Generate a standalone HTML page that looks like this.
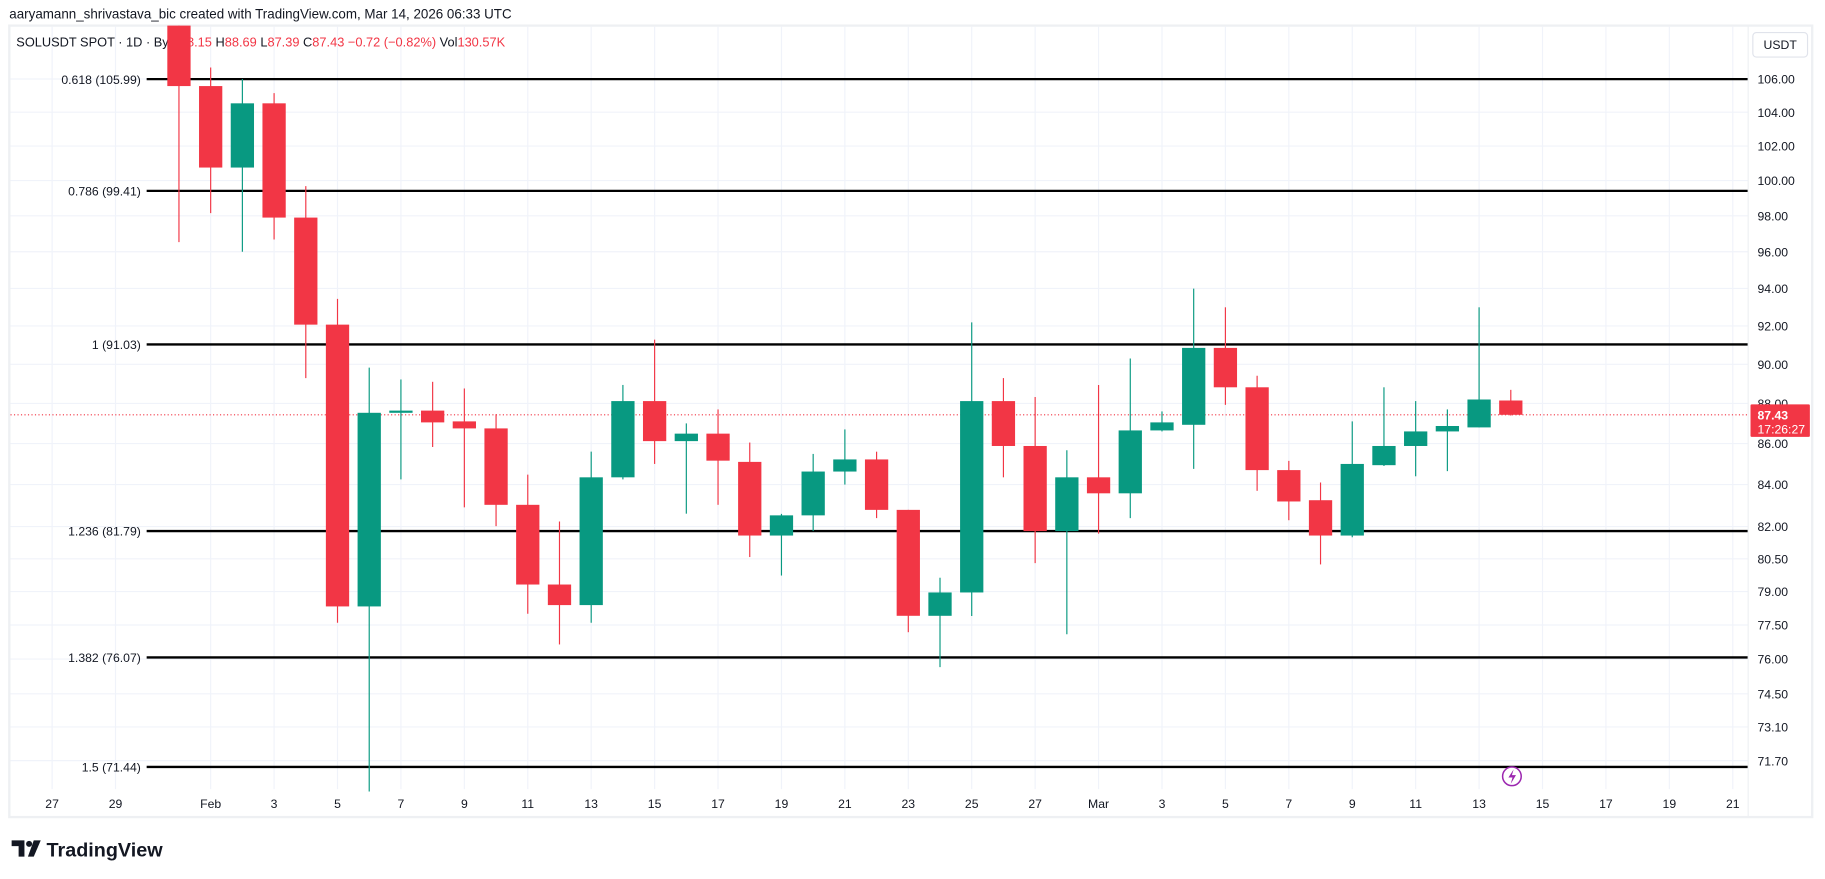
<!DOCTYPE html>
<html><head><meta charset="utf-8"><style>
html,body{margin:0;padding:0;background:#fff;}
svg{display:block;font-family:"Liberation Sans",sans-serif;}
</style></head><body>
<svg id="chart" width="1825" height="879" viewBox="0 0 1568 755.2" preserveAspectRatio="none" xmlns="http://www.w3.org/2000/svg">
<rect width="1568" height="756" fill="#fff"/>
<text x="8" y="16" font-size="11.5" fill="#131722">aaryamann_shrivastava_bic created with TradingView.com, Mar 14, 2026 06:33 UTC</text>
<rect x="8" y="22" width="1549" height="680" fill="none" stroke="#eef0f3" stroke-width="2"/>
<g id="grid"></g>
<g id="fibs"></g>
<text x="14" y="40" font-size="11" fill="#131722">SOLUSDT SPOT · 1D · Bybit</text>
<text x="146" y="40" font-size="11"><tspan fill="#131722">O</tspan><tspan fill="#f23645">88.15 </tspan><tspan fill="#131722"> H</tspan><tspan fill="#f23645">88.69 </tspan><tspan fill="#131722"> L</tspan><tspan fill="#f23645">87.39 </tspan><tspan fill="#131722"> C</tspan><tspan fill="#f23645">87.43  −0.72 (−0.82%) </tspan><tspan fill="#131722"> Vol</tspan><tspan fill="#f23645">130.57K</tspan></text>
<g id="candles"></g>
<g id="axes"></g>
<rect x="1506" y="28" width="47" height="21" rx="3" fill="#fff" stroke="#e0e3eb"/>
<text x="1529.5" y="42" font-size="10.5" text-anchor="middle" fill="#131722">USDT</text>
<circle cx="1299" cy="667" r="8" fill="#fff" stroke="#9c27b0" stroke-width="1.3"/>
<path d="M1300.5 661 L1296 668 L1299.5 668 L1298 673.5 L1302.5 666 L1299 666 Z" fill="#9c27b0"/>
<g>
<path d="M10 722 h11 v14 h-5 v-9 h-6 z" fill="#131722"/><circle cx="25" cy="725" r="2.6" fill="#131722"/><path d="M29 722 h6 l-6 14 h-5 z" fill="#131722"/>
<text x="40" y="736" font-size="17" font-weight="bold" fill="#131722">TradingView</text></g>
</svg>
<script>
const dates=[-1,0,1,2,3,4,5,6,7,8,9,10,11,12,13,14,15,16,17,18,19,20,21,22,23,24,25,26,27,28,29,30,31,32,33,34,35,36,37,38,39,40,41];
const opens=[110.5,105.57,100.75,104.53,97.9,92.07,78.33,87.53,87.64,87.1,86.75,83.03,79.32,78.39,84.35,88.12,86.12,86.49,85.1,81.58,82.53,84.63,85.22,82.79,77.91,78.96,88.12,85.88,81.79,84.35,83.58,86.65,86.93,90.85,88.82,84.7,83.25,81.58,84.94,85.88,86.6,86.8,88.15];
const highs=[112,106.7,106.0,105.14,99.68,93.44,89.83,89.22,89.1,88.76,87.46,84.48,82.24,85.6,88.94,91.28,87.0,87.7,86.05,82.6,85.49,86.7,85.6,82.79,79.63,92.19,89.29,88.33,85.67,88.94,90.3,87.6,93.99,92.99,89.41,85.15,84.1,87.1,88.82,88.12,87.7,92.99,88.69];
const lows=[96.53,98.15,96.0,96.68,89.29,77.6,70.44,84.25,85.83,82.91,82.02,78.0,76.64,77.6,84.25,85.0,82.61,83.03,80.58,79.73,81.79,84.0,82.4,77.18,75.65,77.9,84.35,80.3,77.09,81.67,82.4,86.6,84.76,87.93,83.7,82.3,80.24,81.5,84.9,84.4,84.65,86.8,87.39];
const closes=[105.57,100.75,104.53,97.9,92.07,78.33,87.53,87.64,87.05,86.75,83.03,79.32,78.39,84.35,88.12,86.12,86.49,85.16,81.58,82.53,84.63,85.22,82.79,77.91,78.96,88.12,85.88,81.79,84.35,83.58,86.65,87.05,90.85,88.82,84.7,83.19,81.58,85.0,85.88,86.6,86.87,88.2,87.43];
const priceTicks=[106,104,102,100,98,96,94,92,90,88,86,84,82,80.5,79,77.5,76,74.5,73.1,71.7];
const fibLevels=["0.618","0.786","1","1.236","1.382","1.5"];
const fibPrices=[105.99,99.41,91.03,81.79,76.07,71.44];
const dayTicks=[-5,-3,0,2,4,6,8,10,12,14,16,18,20,22,24,26,28,30,32,34,36,38,40,42,44,46,48];
const dayLabels=["27","29","Feb","3","5","7","9","11","13","15","17","19","21","23","25","27","Mar","3","5","7","9","11","13","15","17","19","21"];
const lastPrice=87.43;
const NS="http://www.w3.org/2000/svg";
const X=i=>181+27.245*i;
const Y=p=>68+1498*Math.log(105.99/p);
function mk(tag,attrs,parent,txt){const e=document.createElementNS(NS,tag);for(const k in attrs)e.setAttribute(k,attrs[k]);if(txt!==undefined)e.textContent=txt;document.getElementById(parent).appendChild(e);return e;}
dayTicks.forEach(d=>{const e=mk('line',{x1:X(d),x2:X(d),y1:23,y2:678,stroke:'#f0f3fa','stroke-width':1},'grid');

});
priceTicks.forEach(p=>{const e=mk('line',{x1:9,x2:1502,y1:Y(p),y2:Y(p),stroke:'#f0f3fa','stroke-width':1},'grid');

});
fibPrices.forEach((p,i)=>{const l=mk('line',{x1:126,x2:1502,y1:Y(p),y2:Y(p),stroke:'#000','stroke-width':2},'fibs');


const t=mk('text',{x:121,y:Y(p)+4,'font-size':10.5,'text-anchor':'end',fill:'#131722'},'fibs',fibLevels[i]+' ('+p.toFixed(2)+')');

});
const lp=mk('line',{x1:9,x2:1502,y1:Y(lastPrice),y2:Y(lastPrice),stroke:'#f23645','stroke-width':1,'stroke-dasharray':'1 2'},'fibs');


const cw=20;
dates.forEach((d,i)=>{const o=opens[i],c=closes[i],up=c>=o,col=up?'#089981':'#f23645',x=X(d);
const g=mk('g',{},'candles');


const w=document.createElementNS(NS,'line');w.setAttribute('x1',x);w.setAttribute('x2',x);w.setAttribute('y1',Math.max(22,Y(highs[i])));w.setAttribute('y2',Y(lows[i]));w.setAttribute('stroke',col);w.setAttribute('stroke-width',1);g.appendChild(w);
const top=Math.max(22,Y(Math.max(o,c))),bot=Y(Math.min(o,c));
const r=document.createElementNS(NS,'rect');r.setAttribute('x',x-cw/2);r.setAttribute('y',top);r.setAttribute('width',cw);r.setAttribute('height',Math.max(1.5,bot-top));r.setAttribute('fill',col);g.appendChild(r);});
const ax=mk('line',{x1:1502,x2:1502,y1:22,y2:702,stroke:'#eef0f3'},'axes');


priceTicks.forEach(p=>{const t=mk('text',{x:1510,y:Y(p)+4,'font-size':10.5,fill:'#131722'},'axes',p.toFixed(2));

});
dayTicks.forEach((d,i)=>{const t=mk('text',{x:X(d),y:694,'font-size':10.5,'text-anchor':'middle',fill:'#131722'},'axes',dayLabels[i]);

});
const pb=mk('rect',{x:1504,y:Y(lastPrice)-9,width:51,height:28,fill:'#f23645',rx:1},'axes');


const pt=mk('text',{x:1510,y:Y(lastPrice)+4,'font-size':10.5,fill:'#fff','font-weight':'bold'},'axes',lastPrice.toFixed(2));


const ct=mk('text',{x:1510,y:Y(lastPrice)+16,'font-size':10.5,fill:'#fff'},'axes','17:26:27');


</script>
</body></html>
